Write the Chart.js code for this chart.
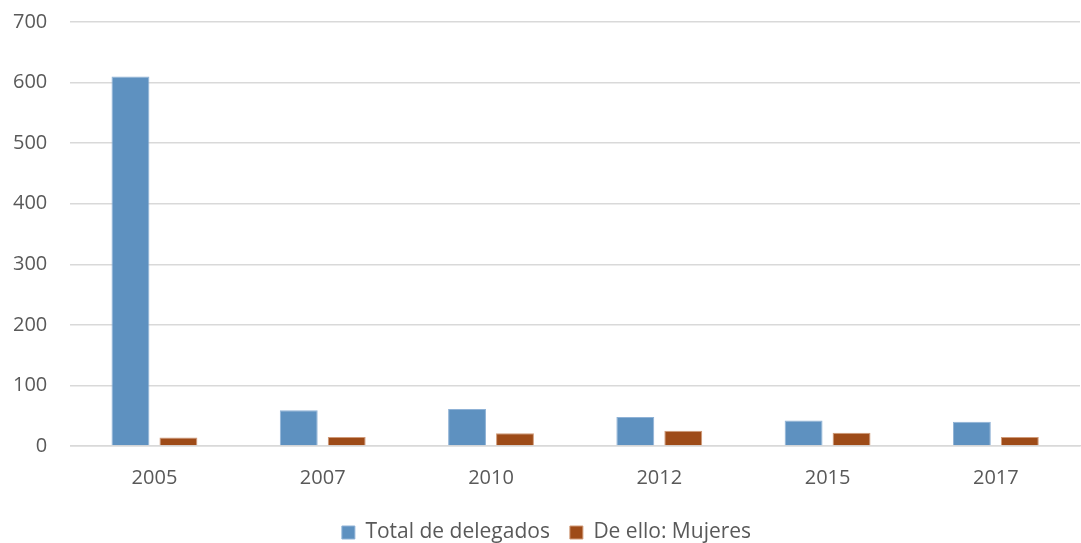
<!DOCTYPE html>
<html>
<head>
<meta charset="utf-8">
<script src="https://cdn.jsdelivr.net/npm/chart.js@4"></script>
<style>
  html, body { margin: 0; padding: 0; background: #fff; }
  #wrap { width: 1081px; height: 543px; }
</style>
</head>
<body>
<div id="wrap"><canvas id="grafico"></canvas></div>
<script>
// Datos
const years = ['2005', '2007', '2010', '2012', '2015', '2017'];
const totalDelegados = [610, 59, 61, 48, 42, 40];
const mujeres = [14, 15, 21, 25, 22, 15];
const yTicks = [0, 100, 200, 300, 400, 500, 600, 700];

Chart.defaults.font.family = "'Open Sans', 'Noto Sans', sans-serif";
Chart.defaults.color = '#595959';

const ctx = document.getElementById('grafico');
new Chart(ctx, {
    type: 'bar',
    data: {
        labels: years,
        datasets: [
            { label: 'Total de delegados', data: totalDelegados, backgroundColor: '#5e91c0', borderColor: '#8fb2d6', borderWidth: 1 },
            { label: 'De ello: Mujeres', data: mujeres, backgroundColor: '#9e4b18', borderColor: '#d09a78', borderWidth: 1 }
        ]
    },
    options: {
        responsive: true,
        maintainAspectRatio: false,
        animation: false,
        layout: { padding: { top: 22, right: 1, left: 13, bottom: -10 } },
        datasets: { bar: { categoryPercentage: 0.57, barPercentage: 0.79 } },
        scales: {
            x: {
                grid: { display: false },
                border: { color: '#d9d9d9', width: 1.5 },
                ticks: { font: { size: 20 }, padding: 12 }
            },
            y: {
                min: 0, max: 700,
                afterBuildTicks: (axis) => { axis.ticks = yTicks.map(v => ({ value: v })); },
                // hueco entre etiqueta y linea con marcas transparentes
                grid: { color: '#d9d9d9', lineWidth: 1.5, drawTicks: true, tickLength: 23, tickColor: 'rgba(0,0,0,0)' },
                border: { display: false },
                ticks: { font: { size: 20 }, padding: 0 }
            }
        },
        plugins: {
            legend: {
                position: 'bottom',
                labels: { boxWidth: 13, boxHeight: 13, padding: 20, font: { size: 21 } }
            },
            tooltip: { enabled: false }
        }
    }
});
</script>
</body>
</html>
